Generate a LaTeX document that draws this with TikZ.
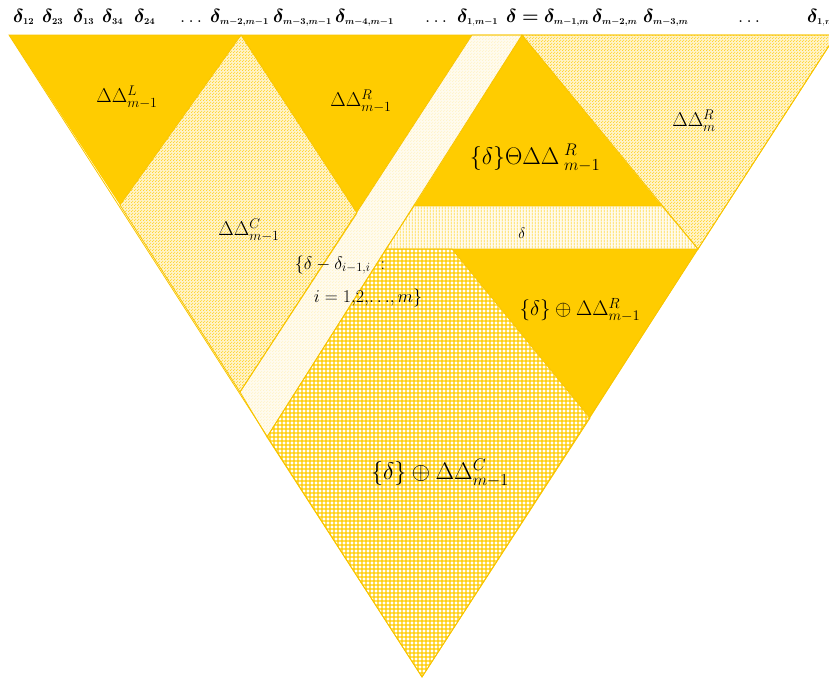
\documentclass[tikz,border=0pt]{standalone}
\usepackage{fix-cm}
\usepackage{amsmath,bm}
\DeclareMathSizes{19}{19}{9}{6}
\usetikzlibrary{patterns.meta}
\definecolor{gold}{HTML}{FFCC00}
\definecolor{edge}{HTML}{F8C400}
\definecolor{palebg}{HTML}{FFF3C8}
\definecolor{stripebg}{HTML}{FFFBEE}
\tikzdeclarepattern{name=ydots, type=uncolored,
  bottom left={(0pt,0pt)}, top right={(2.6pt,2.6pt)}, tile size={(2.6pt,2.6pt)},
  code={\fill (0.65pt,0.65pt) circle (0.62pt); \fill (1.95pt,1.95pt) circle (0.62pt);}}
\tikzdeclarepattern{name=ygrid, type=uncolored,
  bottom left={(0pt,0pt)}, top right={(4.4pt,4.4pt)}, tile size={(4.4pt,4.4pt)},
  code={\draw[line width=1.5pt] (0pt,2.2pt) -- (4.4pt,2.2pt) (2.2pt,0pt) -- (2.2pt,4.4pt);}}
\tikzdeclarepattern{name=yvlines, type=uncolored,
  bottom left={(0pt,0pt)}, top right={(3pt,3pt)}, tile size={(3pt,3pt)},
  code={\draw[line width=1pt] (1.5pt,0pt) -- (1.5pt,3pt);}}
\tikzset{
  solidreg/.style={fill=gold},
  dotreg/.style={fill=palebg, postaction={pattern=ydots, pattern color=gold!85}},
  stripereg/.style={fill=stripebg, postaction={pattern=ydots, pattern color=gold!22}},
  vlinereg/.style={fill=stripebg, postaction={pattern=yvlines, pattern color=gold!70}},
  gridreg/.style={fill=white, postaction={pattern=ygrid, pattern color=gold}},
  outline/.style={draw=edge, line width=0.8pt, line join=miter},
  toplbl/.style={anchor=base west, inner sep=0pt, font=\fontsize{19}{21}\selectfont},
  reglbl/.style={inner sep=0pt, font=\fontsize{21}{24}\selectfont},
  biglbl/.style={inner sep=0pt, font=\fontsize{24}{27}\selectfont}
}
\begin{document}
\begin{tikzpicture}[x=1pt,y=-1pt]
\useasboundingbox (0,0) rectangle (829,683);
% key points
\coordinate (A) at (9,35);
\coordinate (B) at (836,35);
\coordinate (O) at (422,677);
\coordinate (P) at (241,35);
\coordinate (Q) at (472,35);
\coordinate (S) at (522,35);
\coordinate (L1) at (120,205);
\coordinate (R1) at (357,213);
\coordinate (C) at (240,392);
\coordinate (D) at (267,437);
\coordinate (E) at (414,206);
\coordinate (F) at (662,206);
\coordinate (G) at (698,249);
\coordinate (H) at (386,249);
\coordinate (I) at (452,249);
\coordinate (J) at (590,418);
% regions
\path[solidreg] (A) -- (P) -- (L1) -- cycle;
\path[solidreg] (P) -- (Q) -- (R1) -- cycle;
\path[dotreg] (P) -- (R1) -- (C) -- (L1) -- cycle;
\path[stripereg] (Q) -- (S) -- (D) -- (C) -- cycle;
\path[dotreg] (S) -- (B) -- (G) -- cycle;
\path[solidreg] (S) -- (F) -- (E) -- cycle;
\path[vlinereg] (E) -- (F) -- (G) -- (H) -- cycle;
\path[solidreg] (I) -- (G) -- (J) -- cycle;
\path[gridreg] (H) -- (I) -- (J) -- (O) -- (D) -- cycle;
% outlines
\draw[outline] (P) -- (R1) -- (C) -- (L1) -- cycle;
\draw[outline] (Q) -- (S) -- (D) -- (C) -- cycle;
\draw[outline] (S) -- (B) -- (G) -- cycle;
\draw[outline] (E) -- (F) -- (G) -- (H) -- cycle;
\draw[outline] (H) -- (I) -- (J) -- (O) -- (D) -- cycle;
\draw[outline] (A) -- (B) -- (O) -- cycle;
% top labels
\node[toplbl] (t1) at (13,22) {$\bm{\delta}_{\mathbf{12}}$};
\node[toplbl] (t2) at (42,22) {$\bm{\delta}_{\mathbf{23}}$};
\node[toplbl] (t3) at (73,22) {$\bm{\delta}_{\mathbf{13}}$};
\node[toplbl] (t4) at (102,22) {$\bm{\delta}_{\mathbf{34}}$};
\node[toplbl] (t5) at (134,22) {$\bm{\delta}_{\mathbf{24}}$};
\node[toplbl] (t6) at (180,22) {$\dots$};
\node[toplbl] (t7) at (210,22) {$\bm{\delta}_{\bm{m-2,m-1}}$};
\node[toplbl] (t8) at (273,22) {$\bm{\delta}_{\bm{m-3,m-1}}$};
\node[toplbl] (t9) at (335,22) {$\bm{\delta}_{\bm{m-4,m-1}}$};
\node[toplbl] (t10) at (425,22) {$\dots$};
\node[toplbl] (t11) at (457,22) {$\bm{\delta}_{\mathbf{1},\bm{m-1}}$};
\node[toplbl] (t12) at (506,22) {$\bm{\delta}\bm{=}\bm{\delta}_{\bm{m-1,m}}$};
\node[toplbl] (t13) at (592,22) {$\bm{\delta}_{\bm{m-2,m}}$};
\node[toplbl] (t14) at (643,22) {$\bm{\delta}_{\bm{m-3,m}}$};
\node[toplbl] (t15) at (738,22) {$\dots$};
\node[toplbl] (t16) at (807,22) {$\bm{\delta}_{\mathbf{1},\bm{m}}$};
% region labels
\node[reglbl, font=\fontsize{20}{23}\selectfont] (lL) at (127,97) {$\Delta\Delta^{L}_{m-1}$};
\node[reglbl, font=\fontsize{20}{23}\selectfont] (lC) at (249,230) {$\Delta\Delta^{C}_{m-1}$};
\node[reglbl, font=\fontsize{20}{23}\selectfont] (lR) at (361,101) {$\Delta\Delta^{R}_{m-1}$};
\node[reglbl, font=\fontsize{20}{23}\selectfont] (lRm) at (694,121) {$\Delta\Delta^{R}_{m}$};
\node[biglbl] (lTheta) at (535,158) {$\{\delta\}\Theta\Delta\Delta^{\;R}_{\;m-1}$};
\node[reglbl, font=\fontsize{15}{17}\selectfont] (lD) at (522,233) {$\delta$};
\node[reglbl] (lPR) at (580,310) {$\{\delta\}\oplus\Delta\Delta^{R}_{m-1}$};
\node[reglbl, font=\fontsize{18}{21}\selectfont] (ls1) at (340,265) {$\{\delta-\delta_{i-1,i}\;:$};
\node[reglbl, font=\fontsize{18}{21}\selectfont] (ls2) at (368,298) {$i=1{,}2{,}{\ldots}{,}\,m\}$};
\node[biglbl] (lPC) at (440,473) {$\{\delta\}\oplus\Delta\Delta^{C}_{m-1}$};
\end{tikzpicture}
\end{document}
